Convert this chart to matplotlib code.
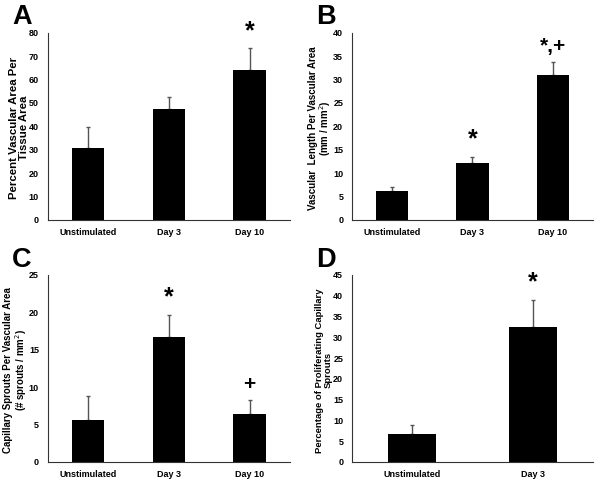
import numpy as np
import matplotlib.pyplot as plt

plt.rcParams['font.family'] = ['Liberation Sans', 'DejaVu Sans']

groups3 = ['Unstimulated', 'Day 3', 'Day 10']
groups2 = ['Unstimulated', 'Day 3']

area_mean = [30.7, 47.2, 64.0]
area_err = [9.1, 5.3, 9.3]
length_mean = [6.1, 12.2, 30.9]
length_err = [1.0, 1.3, 2.9]
sprouts_mean = [5.6, 16.7, 6.4]
sprouts_err = [3.2, 3.0, 1.9]
prolif_mean = [6.7, 32.6]
prolif_err = [2.2, 6.4]

panels = [
    dict(letter='A', cats=groups3, mean=area_mean, err=area_err, ymax=80, step=10,
         ylabel='Percent Vascular Area Per\nTissue Area', lsize=8.2, ly=1.047,
         marks={2: '*'}, pos=[0.08, 0.544, 0.403, 0.388]),
    dict(letter='B', cats=groups3, mean=length_mean, err=length_err, ymax=40, step=5,
         ylabel='Vascular  Length Per Vascular Area\n(mm / mm$^2$)', lsize=7, ly=1.047,
         marks={1: '*', 2: '*,+'}, pos=[0.587, 0.544, 0.401, 0.388]),
    dict(letter='C', cats=groups3, mean=sprouts_mean, err=sprouts_err, ymax=25, step=5,
         ylabel='Capillary Sprouts Per Vascular Area\n(# sprouts / mm$^2$)', lsize=7, ly=1.045,
         marks={1: '*', 2: '+'}, pos=[0.08, 0.0415, 0.403, 0.388]),
    dict(letter='D', cats=groups2, mean=prolif_mean, err=prolif_err, ymax=45, step=5,
         ylabel='Percentage of Proliferating Capillary\nSprouts', lsize=6.8, ly=1.045,
         marks={1: '*'}, pos=[0.587, 0.0415, 0.401, 0.388]),
]

fig = plt.figure(figsize=(6, 4.82), dpi=100)

for p in panels:
    ax = fig.add_axes(p['pos'])
    n = len(p['cats'])
    x = np.arange(n)
    ax.bar(x, p['mean'], width=0.4, color='black', zorder=2)
    ax.errorbar(x, p['mean'], yerr=[np.zeros(n), p['err']], fmt='none',
                ecolor='#555555', elinewidth=1.0, capsize=1.2, capthick=1.0, zorder=1)
    for i, m in p['marks'].items():
        top = p['mean'][i] + p['err'][i]
        fs = 18 if m == '*' else 15
        ax.text(x[i], top + p['ymax'] * 0.03, m, ha='center', va='bottom',
                fontsize=fs, fontweight='bold')
    ax.set_xlim(-0.5, n - 0.5)
    ax.set_ylim(0, p['ymax'])
    ax.set_yticks(np.arange(0, p['ymax'] + 0.1, p['step']))
    ax.set_xticks(x)
    ax.set_xticklabels(p['cats'])
    for s in ['top', 'right']:
        ax.spines[s].set_visible(False)
    for s in ['left', 'bottom']:
        ax.spines[s].set_color('#333333')
        ax.spines[s].set_linewidth(0.8)
    ax.tick_params(length=0, labelsize=6.5)
    ax.tick_params(axis='y', pad=6.5)
    ax.tick_params(axis='x', pad=6)
    for lab in ax.get_xticklabels() + ax.get_yticklabels():
        lab.set_fontweight('bold')
    ax.set_ylabel(p['ylabel'], fontsize=p['lsize'], fontweight='bold', linespacing=0.95)
    ax.yaxis.set_label_coords(-0.08, 0.49)
    ax.text(-0.148, p['ly'], p['letter'], transform=ax.transAxes, fontsize=19.5,
            fontweight='bold', ha='left', va='baseline')

fig.savefig('out.png', dpi=100)
